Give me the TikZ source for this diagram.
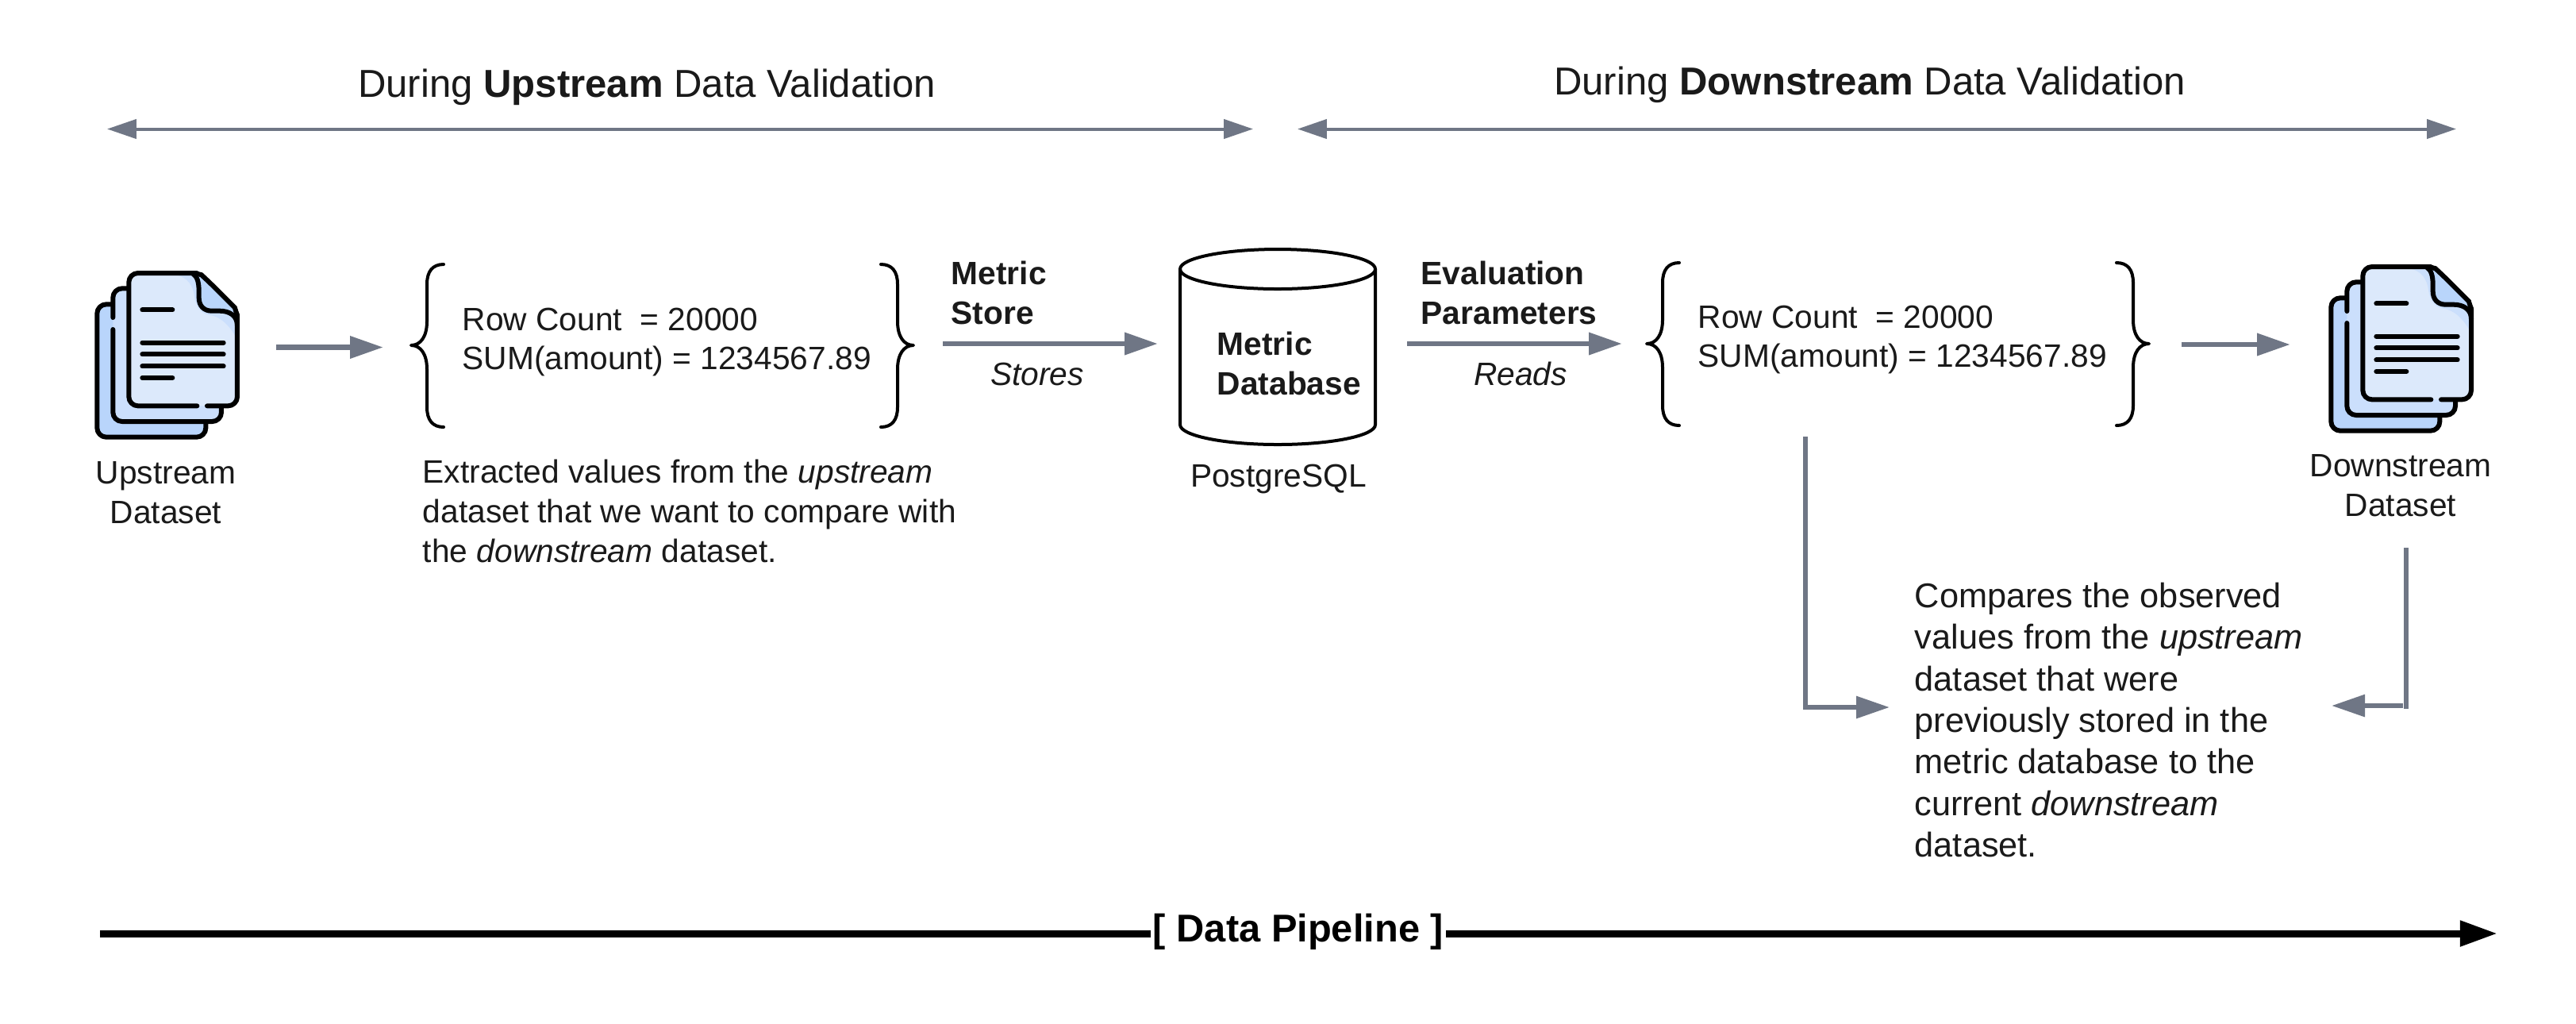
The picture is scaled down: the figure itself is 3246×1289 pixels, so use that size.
\documentclass[tikz,border=0pt]{standalone}
\usepackage{fontspec}
\setmainfont{Liberation Sans}
\usetikzlibrary{arrows.meta}
\definecolor{arrowgrey}{HTML}{6F7685}
\definecolor{inktext}{HTML}{1A1A1A}
\definecolor{sheetback}{HTML}{B9D5FB}
\definecolor{sheetmid}{HTML}{CBDFFC}
\definecolor{sheetfront}{HTML}{DCE9FB}
\tikzset{
  body/.style={font=\fontsize{10.18}{12.43}\selectfont,text=inktext,inner sep=0pt,align=left},
  bodyc/.style={body,align=center},
  bodyb/.style={body,font=\fontsize{10.18}{12.43}\selectfont\bfseries},
  bodyi/.style={bodyc,font=\fontsize{10.18}{12.43}\selectfont\itshape},
  wide/.style={font=\fontsize{10.83}{13.1}\selectfont,text=inktext,inner sep=0pt,align=left},
  head/.style={font=\fontsize{12.27}{14}\selectfont,text=inktext,inner sep=0pt},
  flow/.style={draw=arrowgrey,line width=1.7pt,-{Triangle[length=10.5pt,width=6.75pt]},arrowgrey},
  plainflow/.style={draw=arrowgrey,line width=1.5pt},
  flowhead/.style={plainflow,-{Triangle[length=10.5pt,width=6.75pt]},arrowgrey},
  span/.style={draw=arrowgrey,line width=1pt,{Triangle[length=9.2pt,width=6pt]}-{Triangle[length=9.2pt,width=6pt]},arrowgrey},
  bracepath/.style={draw=black,line width=1pt,line cap=round,line join=round},
  ink/.style={draw=black,line width=1.5pt,line cap=round,line join=round},
  docicon/.pic={
    \begin{scope}[scale=1/3]
      % back sheet
      \fill[sheetback,rounded corners=2.9pt] (127,250) rectangle (538,752);
      \draw[ink,rounded corners=2.9pt] (200,250) -- (127,250) -- (127,752) -- (538,752) -- (538,680);
      % middle sheet
      \fill[sheetmid,rounded corners=2.9pt] (187,190) rectangle (597,693);
      \draw[ink,rounded corners=2.9pt] (187,300) -- (187,190) -- (260,190);
      \draw[ink,rounded corners=2.9pt] (187,345) -- (187,693) -- (597,693) -- (597,620);
      % front sheet
      \fill[sheetfront,rounded corners=2.9pt] (247,634) -- (247,132) -- (470,132) .. controls (500,132) and (525,142) .. (545,160) -- (625,240) .. controls (645,260) and (657,290) .. (657,325) -- (657,634) -- cycle;
      \fill[sheetmid] (430,140) -- (490,135) .. controls (505,145) and (512,165) .. (512,200) -- (512,225) .. controls (512,255) and (530,275) .. (560,275) -- (590,275) .. controls (630,275) and (657,295) .. (652,375) .. controls (625,325) and (590,295) .. (550,290) .. controls (520,285) and (500,260) .. (495,220) .. controls (490,180) and (470,150) .. (430,140) -- cycle;
      \fill[sheetback] (490,135) .. controls (505,145) and (512,165) .. (512,200) -- (512,225) .. controls (512,255) and (530,275) .. (560,275) -- (590,275) .. controls (630,275) and (657,295) .. (657,325) .. controls (657,290) and (645,260) .. (625,240) -- (545,160) .. controls (525,142) and (505,135) .. (490,135) -- cycle;
      \draw[ink,rounded corners=2.9pt] (505,634) -- (247,634) -- (247,132) -- (470,132) .. controls (500,132) and (525,142) .. (545,160) -- (625,240) .. controls (645,260) and (657,290) .. (657,325) -- (657,634) -- (543,634);
      \draw[ink] (490,135) .. controls (505,145) and (512,165) .. (512,200) -- (512,225) .. controls (512,255) and (530,275) .. (560,275) -- (590,275) .. controls (630,275) and (657,295) .. (657,330);
      % text lines
      \draw[ink] (298,271) -- (412,271);
      \draw[ink] (298,395) -- (605,395);
      \draw[ink] (298,439) -- (605,439);
      \draw[ink] (298,484) -- (605,484);
      \draw[ink] (298,528) -- (412,528);
    \end{scope}
  }
}
\begin{document}
\begin{tikzpicture}[x=0.25pt,y=-0.25pt]
\useasboundingbox (0,0) rectangle (3246,1289);
\fill[white] (0,0) rectangle (3246,1289);

% headers
\node[head] (uptitle) at (815,110) {During \textbf{Upstream} Data Validation};
\node[head] (downtitle) at (2356,107) {During \textbf{Downstream} Data Validation};
\coordinate (upL) at (135,162.5);
\coordinate (upR) at (1579,162.5);
\coordinate (downL) at (1635,162.5);
\coordinate (downR) at (3095,162.5);
\draw[span] (upL) -- (upR);
\draw[span] (downL) -- (downR);

% dataset icons
\pic (upicon) at (80,300) {docicon};
\pic (downicon) at (2895,292) {docicon};
\node[bodyc] (uplabel) at (209,621) {Upstream\\Dataset};
\node[bodyc] (downlabel) at (3025,612) {Downstream\\Dataset};

% braces, left group
\draw[bracepath] (559,333) .. controls (545,333) and (538,342) .. (538,358) -- (538,405) .. controls (538,424) and (530,435) .. (518,435) .. controls (530,435) and (538,446) .. (538,465) -- (538,513) .. controls (538,529) and (545,538) .. (559,538);
\draw[bracepath] (1110,333) .. controls (1124,333) and (1131,342) .. (1131,358) -- (1131,405) .. controls (1131,424) and (1139,435) .. (1151,435) .. controls (1139,435) and (1131,446) .. (1131,465) -- (1131,513) .. controls (1131,529) and (1124,538) .. (1110,538);
% braces, right group
\draw[bracepath] (2116,331) .. controls (2102,331) and (2095,340) .. (2095,356) -- (2095,403) .. controls (2095,422) and (2087,433) .. (2075,433) .. controls (2087,433) and (2095,444) .. (2095,463) -- (2095,511) .. controls (2095,527) and (2102,536) .. (2116,536);
\draw[bracepath] (2667,331) .. controls (2681,331) and (2688,340) .. (2688,356) -- (2688,403) .. controls (2688,422) and (2696,433) .. (2708,433) .. controls (2696,433) and (2688,444) .. (2688,463) -- (2688,511) .. controls (2688,527) and (2681,536) .. (2667,536);

\node[body,anchor=west] (rowsup) at (582,431) {Row Count\ \ = 20000\\SUM(amount) = 1234567.89};
\node[body,anchor=west] (rowsdown) at (2139,428) {Row Count\ \ = 20000\\SUM(amount) = 1234567.89};
\node[body,anchor=west] (extracted) at (532,644) {Extracted values from the \textit{upstream}\\dataset that we want to compare with\\the \textit{downstream} dataset.};

% cylinder
\draw[draw=black,line width=1pt,fill=white] (1487,339) -- (1487,535) arc[start angle=180,end angle=0,x radius=123,y radius=25] -- (1733,339);
\draw[draw=black,line width=1pt] (1610,339) ellipse[x radius=123,y radius=25];
\node[bodyb,anchor=west] (metricdb) at (1533,458) {Metric\\Database};
\node[bodyc] (postgres) at (1611,603) {PostgreSQL};

% flow arrows
\coordinate (a1s) at (348,437.5);
\coordinate (a1e) at (483,437.5);
\draw[flow] (a1s) -- (a1e);
\coordinate (a2s) at (1188,433);
\coordinate (a2e) at (1459,433);
\draw[flow] (a2s) -- (a2e);
\coordinate (a3s) at (1773,433);
\coordinate (a3e) at (2044,433);
\draw[flow] (a3s) -- (a3e);
\coordinate (a4s) at (2749,434);
\coordinate (a4e) at (2886,434);
\draw[flow] (a4s) -- (a4e);

\node[bodyb,anchor=west] (metricstore) at (1198,369) {Metric\\Store};
\node[bodyb,anchor=west] (evalparams) at (1790,369) {Evaluation\\Parameters};
\node[bodyi] (stores) at (1307,471) {Stores};
\node[bodyi] (reads) at (1916,471) {Reads};

% compare elbows
\node[wide,anchor=west] (compares) at (2412,907) {Compares the observed\\values from the \textit{upstream}\\dataset that were\\previously stored in the\\metric database to the\\current \textit{downstream}\\dataset.};
\coordinate (e1a) at (2275,550);
\coordinate (e1b) at (2275,893);
\coordinate (e1c) at (2272,891);
\coordinate (e1d) at (2381,891);
\draw[plainflow] (e1a) -- (e1b);
\draw[flowhead] (e1c) -- (e1d);
\coordinate (e2a) at (3032,690);
\coordinate (e2b) at (3032,893);
\coordinate (e2c) at (3028,889);
\coordinate (e2d) at (2938,889);
\draw[plainflow] (e2a) -- (e2b);
\draw[flowhead] (e2c) -- (e2d);

% pipeline
\coordinate (pipeS) at (126,1176);
\coordinate (pipeE) at (3147,1176);
\draw[draw=black,line width=2.25pt,-{Triangle[length=11.8pt,width=7.7pt]},black] (pipeS) -- (pipeE);
\node[font=\fontsize{12.2}{14}\selectfont\bfseries,fill=white,text=black,inner xsep=0.8pt,inner ysep=1pt] (pipeline) at (1636,1174) {[ Data Pipeline ]};
\end{tikzpicture}
\end{document}
